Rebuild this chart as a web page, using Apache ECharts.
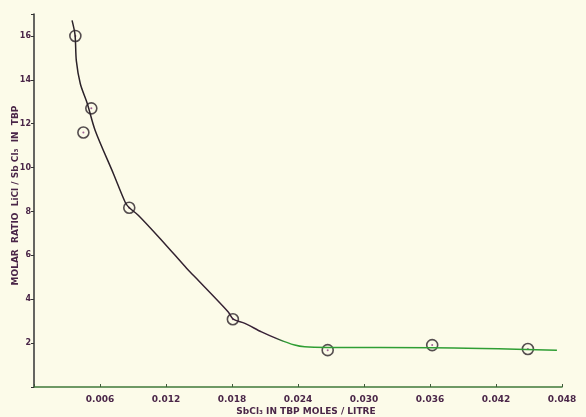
<!DOCTYPE html>
<html>
<head>
<meta charset="utf-8">
<script src="https://cdn.jsdelivr.net/npm/echarts@6/dist/echarts.min.js"></script>
<style>
html,body{margin:0;padding:0;background:#fcfbe9;}
#c{width:586px;height:417px;}
</style>
</head>
<body>
<div id="c"></div>
<script>
// Measured data points (SbCl3 in TBP, moles/litre ; molar ratio LiCl/SbCl3)
var pointX = [0.00376, 0.00449, 0.00521, 0.00866, 0.01808, 0.0267, 0.0362, 0.0449];
var pointY = [16.0, 11.6, 12.7, 8.17, 3.09, 1.68, 1.91, 1.73];

// Hand-drawn fitted curve
var curveX = [0.00346, 0.00373, 0.00385, 0.00421, 0.00485, 0.00557, 0.00723, 0.00829, 0.00866, 0.0095, 0.01162, 0.01389, 0.01464, 0.01766, 0.01811, 0.01917, 0.02068, 0.02219, 0.0237, 0.02461, 0.0267, 0.0362, 0.04754];
var curveY = [16.71, 16.05, 14.86, 13.82, 12.91, 11.68, 9.71, 8.42, 8.17, 7.82, 6.68, 5.40, 5.01, 3.42, 3.09, 2.90, 2.51, 2.18, 1.91, 1.83, 1.80, 1.79, 1.68];

var xTicks = [0.006, 0.012, 0.018, 0.024, 0.030, 0.036, 0.042, 0.048];
var yTicks = [2, 4, 6, 8, 10, 12, 14, 16];

var pts = pointX.map(function(x, i){ return [x, pointY[i]]; });
var crv = curveX.map(function(x, i){ return [x, curveY[i]]; });

var labelColor = '#4a2648';
var font = 'DejaVu Sans';

var chart = echarts.init(document.getElementById('c'));
chart.setOption({
  backgroundColor: '#fcfbe9',
  animation: false,
  grid: {left: 34, right: 24, top: 14, bottom: 30, containLabel: false, outerBoundsMode: 'none'},
  xAxis: {
    type: 'value', min: 0, max: 0.048, interval: 0.006,
    name: 'SbCl₃ IN TBP MOLES / LITRE',
    nameLocation: 'middle', nameGap: 20, nameMoveOverlap: false,
    nameTextStyle: {color: labelColor, fontFamily: font, fontSize: 9, fontWeight: 'bold', padding: [0, 0, 0, 16]},
    axisLine: {lineStyle: {color: '#3f7a3a', width: 1.5}},
    axisTick: {inside: true, length: 3, lineStyle: {color: '#3f5a3a'}},
    splitLine: {show: false},
    axisLabel: {
      color: labelColor, fontFamily: font, fontSize: 9, fontWeight: 'bold', margin: 8,
      formatter: function(v){
        for (var i = 0; i < xTicks.length; i++) if (Math.abs(v - xTicks[i]) < 1e-6) return xTicks[i].toFixed(3);
        return '';
      }
    }
  },
  yAxis: {
    type: 'value', min: 0, max: 17, interval: 2,
    name: 'MOLAR  RATIO  LiCl / Sb Cl₃  IN  TBP',
    nameLocation: 'middle', nameGap: 14, nameRotate: 90, nameMoveOverlap: false,
    nameTextStyle: {color: labelColor, fontFamily: font, fontSize: 9, fontWeight: 'bold', padding: [0, 0, 0, 10]},
    axisLine: {lineStyle: {color: '#333', width: 1.5}},
    axisTick: {length: 3, lineStyle: {color: '#333'}},
    splitLine: {show: false},
    axisLabel: {
      color: labelColor, fontFamily: font, fontSize: 8, fontWeight: 'bold', margin: 3,
      formatter: function(v){ return yTicks.indexOf(v) >= 0 ? String(v) : ''; }
    }
  },
  series: [
    {
      type: 'line', data: crv, smooth: 0.3, showSymbol: false,
      lineStyle: {
        width: 1.5,
        color: new echarts.graphic.LinearGradient(0, 0, 1, 0, [
          {offset: 0, color: '#2a2228'},
          {offset: 0.42, color: '#3a2238'},
          {offset: 0.44, color: '#2f9e34'},
          {offset: 1, color: '#2f9e34'}
        ])
      }
    },
    {
      type: 'scatter', data: pts, symbol: 'circle', symbolSize: 11,
      itemStyle: {color: 'rgba(0,0,0,0)', borderColor: '#2a2228', borderWidth: 1.6}
    },
    {
      type: 'scatter', data: pts, symbol: 'circle', symbolSize: 2,
      itemStyle: {color: '#8a3a80'}
    }
  ]
});
</script>
</body>
</html>
